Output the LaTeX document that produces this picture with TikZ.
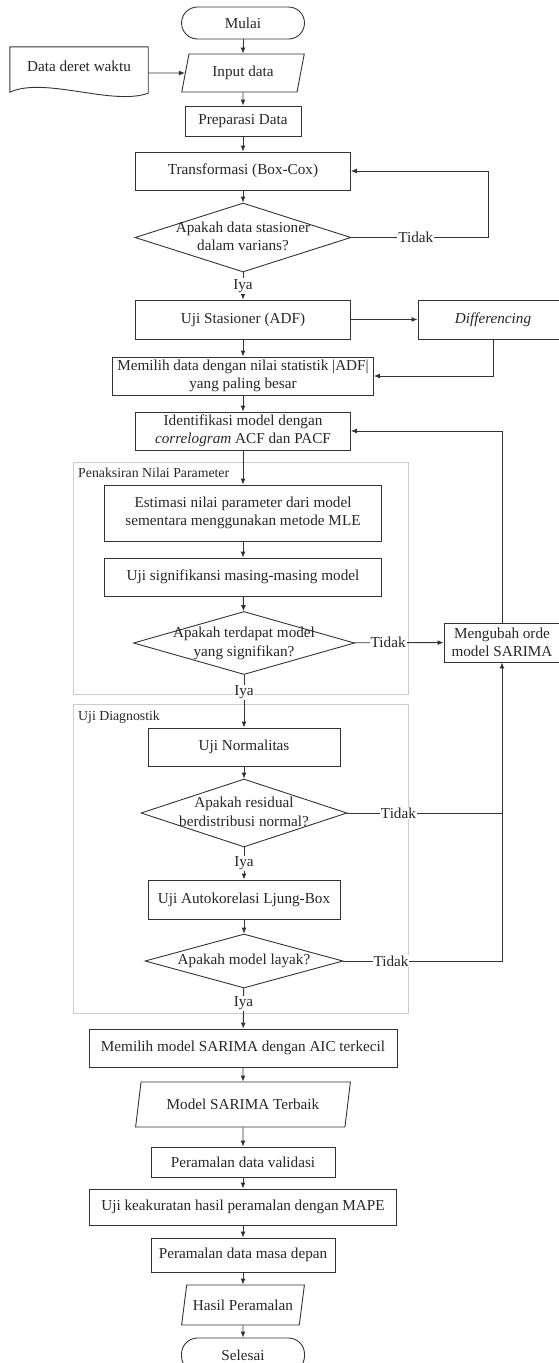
\documentclass[tikz,border=0pt]{standalone}
\usepackage{fontspec}
\setmainfont{Liberation Serif}
\usetikzlibrary{%
  arrows.meta,%
  calc,%
  shapes.geometric%
}
\newcommand{\fs}{\fontsize{15.2}{18.3}\selectfont}
\newcommand{\gs}{\fontsize{13.8}{16}\selectfont}
\newcommand{\dtext}[1]{\makebox[0pt]{\smash{\raisebox{-0.25em}{\begin{tabular}{@{}c@{}}#1\end{tabular}}}}}
\tikzset{>={Latex[length=6pt,width=5pt]}}
\tikzset{
  line/.style={draw=black!80, line width=0.9pt},
  proc/.style={line, rectangle, align=center, inner sep=2pt, font=\fs, text=black!85},
  term/.style={line, rectangle, rounded corners=16pt, minimum width=123pt, font=\fs, text=black!85},
  io/.style={line, trapezium, trapezium left angle=#1, trapezium right angle=180-#1,
    trapezium stretches=true, inner sep=1pt, font=\fs, text=black!85},
  decision/.style={line, diamond, inner sep=0pt, font=\fs, text=black!85},
  lbl/.style={fill=white, inner sep=1pt, font=\fs, text=black!85},
  grp/.style={draw=black!20, line width=0.9pt},
  grplbl/.style={anchor=west, inner sep=1pt, font=\gs, text=black!85}
}

\begin{document}
\begin{tikzpicture}[x=1pt,y=-1pt]
  \useasboundingbox (0,0) rectangle (559,1363);
  % kotak kelompok
  \draw[grp] (73,462) rectangle (408,694);
  \node[grplbl] (grpest) at (77,473) {Penaksiran Nilai Parameter};
  \draw[grp] (73,704) rectangle (408,1013);
  \node[grplbl] (grpdiag) at (77,717) {Uji Diagnostik};

  \node[term, minimum height=32pt] (start) at (243,23) {Mulai};
  \node[font=\fs, text=black!85, minimum width=138pt, minimum height=38pt, inner sep=0pt] (series) at (79,66) {Data deret waktu};
  \draw[line] ($(series.south west)+(0,7)$) -- (series.north west) -- (series.north east)
    -- ($(series.south east)+(0,8)$) .. controls ($(series.south east)+(-36,21)$)
    and ($(series.south west)+(35,-9)$) .. ($(series.south west)+(0,7)$) -- cycle;
  \node[io=75, minimum width=123pt, minimum height=38pt] (input) at (243,73) {Input data};
  \node[proc, minimum width=116pt, minimum height=30pt] (prep) at (243,121) {Preparasi Data};
  \node[proc, minimum width=215pt, minimum height=38pt] (boxcox) at (243,171) {Transformasi (Box-Cox)};
  \node[decision, minimum width=216pt, minimum height=69pt] (varcheck) at (243,237.5) {\dtext{Apakah data stasioner\\dalam varians?}};
  \node[proc, minimum width=215pt, minimum height=39pt] (adf) at (243,319.5) {Uji Stasioner (ADF)};
  \node[proc, minimum width=150pt, minimum height=39pt] (diff) at (493,319.5) {\textit{Differencing}};
  \node[proc, minimum width=261pt, minimum height=38pt] (pick) at (243,376) {Memilih data dengan nilai statistik |ADF|\\yang paling besar};
  \node[proc, minimum width=215pt, minimum height=38pt] (ident) at (243,431) {Identifikasi model dengan\\\textit{correlogram} ACF dan PACF};
  \node[proc, minimum width=277pt, minimum height=56pt] (mle) at (243,513) {Estimasi nilai parameter dari model\\sementara menggunakan metode MLE};
  \node[proc, minimum width=277pt, minimum height=38pt] (signif) at (243,577) {Uji signifikansi masing-masing model};
  \node[decision, minimum width=221pt, minimum height=63pt] (sigcheck) at (244,643) {\dtext{Apakah terdapat model\\yang signifikan?}};
  \node[proc, minimum width=116pt, minimum height=39pt] (reorder) at (502,642.5) {Mengubah orde\\model SARIMA};
  \node[proc, minimum width=192pt, minimum height=38pt] (normal) at (244,747) {Uji Normalitas};
  \node[decision, minimum width=206pt, minimum height=68pt] (normcheck) at (244,813) {\dtext{Apakah residual\\berdistribusi normal?}};
  \node[proc, minimum width=192pt, minimum height=39pt] (ljung) at (244,899.5) {Uji Autokorelasi Ljung-Box};
  \node[decision, minimum width=198pt, minimum height=54pt] (fitcheck) at (244,961) {\dtext{Apakah model layak?}};
  \node[proc, minimum width=308pt, minimum height=38pt] (aic) at (243,1048) {Memilih model SARIMA dengan AIC terkecil};
  \node[io=72, minimum width=215pt, minimum height=45pt] (best) at (243,1104.5) {Model SARIMA Terbaik};
  \node[proc, minimum width=184pt, minimum height=30pt] (valid) at (243,1162) {Peramalan data validasi};
  \node[proc, minimum width=307pt, minimum height=36pt] (mape) at (243,1207) {Uji keakuratan hasil peramalan dengan MAPE};
  \node[proc, minimum width=184pt, minimum height=34pt] (future) at (243,1255) {Peramalan data masa depan};
  \node[io=70, minimum width=123pt, minimum height=40pt] (result) at (243,1305) {Hasil Peramalan};
  \node[term, minimum height=34pt] (finish) at (243,1355) {Selesai};

  % alur utama
  \draw[line,->] (start) -- (input);
  \draw[line,->] (series.east |- input) -- (input);
  \draw[line,->] (input) -- (prep);
  \draw[line,->] (prep) -- (boxcox);
  \draw[line,->] (boxcox) -- (varcheck);
  \draw[line,->] (varcheck.east) -- ++(137,0) node[lbl, pos=0.47] (no1) {Tidak} |- (boxcox);
  \draw[line,->] (varcheck) -- node[lbl] (yes1) {Iya} (adf);
  \draw[line,->] (adf) -- (diff);
  \draw[line,->] (diff) |- (pick);
  \draw[line,->] (adf) -- (pick);
  \draw[line,->] (pick) -- (ident);
  \draw[line,->] (ident) -- (mle);
  \draw[line,->] (mle) -- (signif);
  \draw[line,->] (signif) -- (sigcheck);
  \draw[line,->] (sigcheck) -- node[lbl, pos=0.38] (no2) {Tidak} (reorder);
  \draw[line,->] (reorder.north) |- (ident);
  \draw[line,->] (sigcheck) -- node[lbl, pos=0.33] (yes2) {Iya} (normal);
  \draw[line,->] (normal) -- (normcheck);
  \draw[line] (normcheck) -- node[lbl, pos=0.33] (no3) {Tidak} (normcheck -| reorder);
  \draw[line,->] (normcheck) -- node[lbl] (yes3) {Iya} (ljung);
  \draw[line,->] (ljung) -- (fitcheck);
  \draw[line,->] (fitcheck) -- node[lbl, pos=0.3] (no4) {Tidak} (fitcheck -| reorder) -- (reorder);
  \draw[line,->] (fitcheck) -- node[lbl, pos=0.37] (yes4) {Iya} (aic);
  \draw[line,->] (aic) -- (best);
  \draw[line,->] (best) -- (valid);
  \draw[line,->] (valid) -- (mape);
  \draw[line,->] (mape) -- (future);
  \draw[line,->] (future) -- (result);
  \draw[line,->] (result) -- (finish);
\end{tikzpicture}
\end{document}
